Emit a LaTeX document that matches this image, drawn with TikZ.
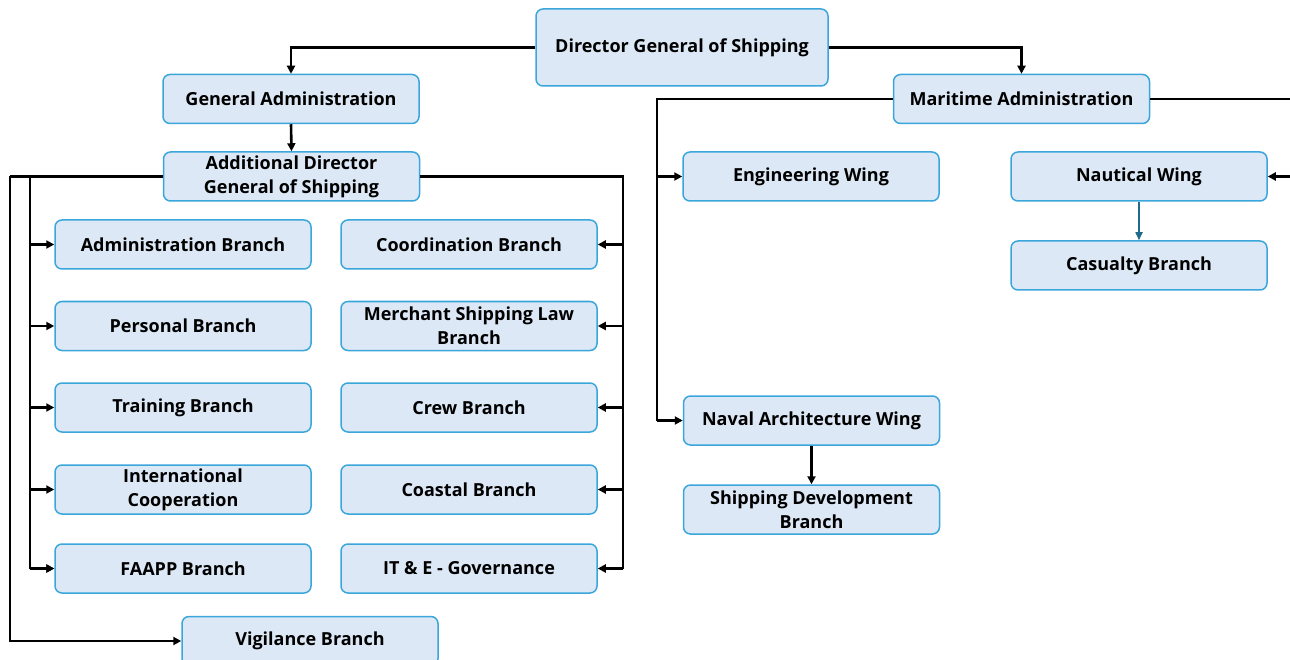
\documentclass[tikz,border=0pt]{standalone}
\usepackage{fontspec}
\setmainfont{Open Sans}
\usetikzlibrary{arrows.meta}
\definecolor{boxfill}{HTML}{DCE8F5}
\definecolor{boxline}{HTML}{3AA6DC}
\definecolor{tealarrow}{HTML}{1F6A8A}
\tikzset{
  unit/.style={draw=boxline, fill=boxfill, line width=1.5pt, rounded corners=7pt,
    minimum width=256pt, minimum height=49pt, align=center,
    font=\fontsize{18}{24}\selectfont\bfseries, inner sep=2pt},
  link/.style={line width=2.6pt, -{Triangle[length=8pt,width=8pt]}},
  plain/.style={line width=2.6pt},
  thin link/.style={line width=1.6pt, draw=tealarrow, -{Triangle[length=8pt,width=7pt]}, tealarrow}
}
\begin{document}
\begin{tikzpicture}[x=1pt,y=-1pt]
\clip (0,0) rectangle (1290,660);
\fill[white] (0,0) rectangle (1290,660);

% top level
\node[unit, minimum width=292pt, minimum height=77pt] (dg) at (682,47.5) {Director General of Shipping};
\node[unit] (ga) at (291,99) {General Administration};
\node[unit] (ma) at (1021.5,99) {Maritime Administration};
\node[unit] (adg) at (291.5,176.5) {Additional Director\\General of Shipping};

% branches under the additional director general
\node[unit] (admin) at (183,244.5) {Administration Branch};
\node[unit] (coord) at (469,244.5) {Coordination Branch};
\node[unit] (pers) at (183,326) {Personal Branch};
\node[unit] (msl) at (469,326) {Merchant Shipping Law\\Branch};
\node[unit] (train) at (183,407.5) {Training Branch};
\node[unit] (crew) at (469,407.5) {Crew Branch};
\node[unit] (intl) at (183,489.5) {International\\Cooperation};
\node[unit] (coast) at (469,489.5) {Coastal Branch};
\node[unit] (faapp) at (183,568.5) {FAAPP Branch};
\node[unit] (itg) at (469,568.5) {IT \& E - Governance};
\node[unit] (vig) at (310,641) {Vigilance Branch};

% maritime side
\node[unit] (eng) at (811,176.5) {Engineering Wing};
\node[unit] (naut) at (1139,176.5) {Nautical Wing};
\node[unit] (cas) at (1139,265.5) {Casualty Branch};
\node[unit] (nav) at (811.5,420.5) {Naval Architecture Wing};
\node[unit] (sdb) at (811.5,509.5) {Shipping Development\\Branch};

% bus points
\coordinate (farleft) at (10,176.5);
\coordinate (leftbus) at (30,176.5);
\coordinate (rightbus) at (623,176.5);
\coordinate (mabus) at (657,99);
\coordinate (edge) at (1296,99);

% connectors
\draw[link] (dg.west) -| (ga.north);
\draw[link] (dg.east) -| (ma.north);
\draw[link] (ga.south) -- (adg.north);

\draw[plain] (adg.west) -- (farleft);
\draw[link] (farleft) |- (vig.west);
\draw[plain] (leftbus) -- (30,568.5);
\foreach \b in {admin,pers,train,intl,faapp}
  \draw[link] (leftbus |- \b.west) -- (\b.west);
\draw[link] (30,568.5) -- (faapp.west);

\draw[plain] (adg.east) -- (rightbus) -- (623,568.5);
\foreach \b in {coord,msl,crew,coast,itg}
  \draw[link] (rightbus |- \b.east) -- (\b.east);

\draw[plain] (ma.west) -- (mabus) -- (657,420.5);
\draw[link] (mabus |- eng.west) -- (eng.west);
\draw[link] (657,420.5) -- (nav.west);
\draw[plain] (ma.east) -- (edge) -- (1296,176.5);
\draw[link] (1296,176.5) -- (naut.east);
\draw[thin link] (naut.south) -- (cas.north);
\draw[link] (nav.south) -- (sdb.north);
\end{tikzpicture}
\end{document}
